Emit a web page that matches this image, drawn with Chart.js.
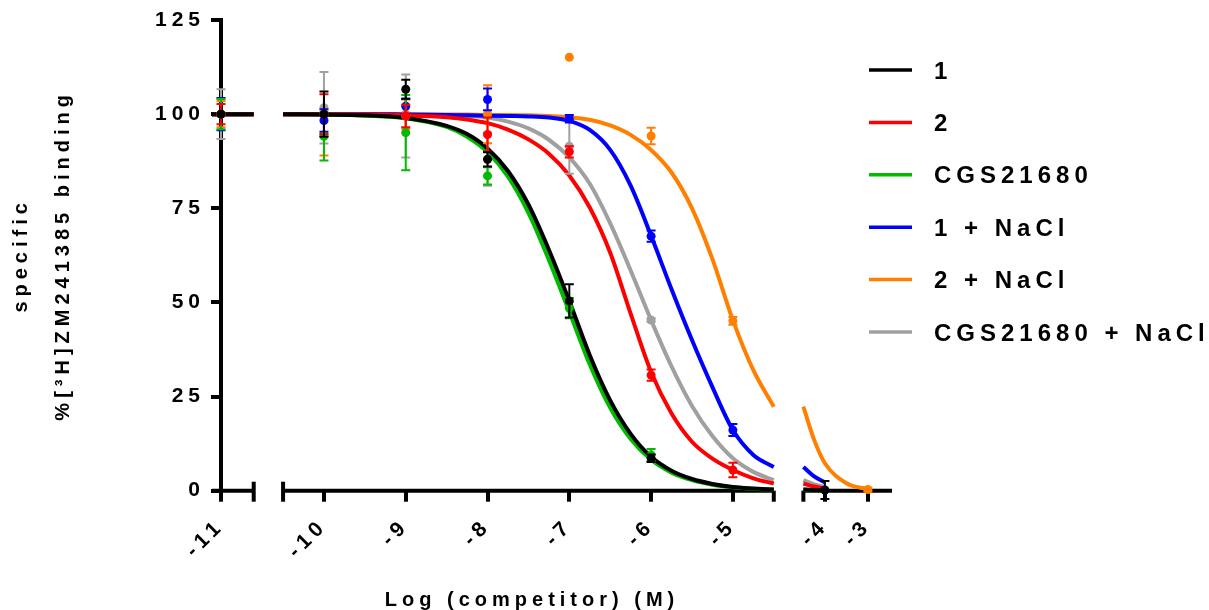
<!DOCTYPE html>
<html>
<head>
<meta charset="utf-8">
<title>Competition binding</title>
<script src="https://cdn.jsdelivr.net/npm/chart.js@4.4.1/dist/chart.umd.min.js"></script>
<style>
  html, body { margin: 0; padding: 0; background: #fff; }
  .chart-container { position: relative; width: 1209px; height: 610px; }
</style>
</head>
<body>
<div class="chart-container"><canvas id="bindingChart"></canvas></div>
<script>
// Tested concentrations, log (M)
const doses = [-11, -10, -9, -8, -7, -6, -5, -4, -3];

// Mean % specific binding per dose (null = no point shown)
const mean1 = [100, 100, 106.6, 88.0, 50.4, 8.6, null, 0.2, null];
const mean2 = [100, 100, 99.5, 94.6, 90.0, 30.7, 5.5, null, null];
const mean3 = [100, 94.1, 95.1, 83.6, 48.5, 9.5, null, null, null];
const mean4 = [100, 98.3, 102.1, 103.9, 98.8, 67.6, 16.1, null, null];
const mean5 = [100, 94.5, 100.0, 100.0, 115.1, 94.2, 45.1, null, 0.3];
const mean6 = [100, 101.7, 99.5, 88.0, 91.5, 45.3, null, null, null];

// SEM per dose
const sem1 = [0, 6.0, 2.5, 1.9, 4.4, 1.0, null, 2.4, null];
const sem2 = [2.7, 5.3, 3.0, 4.5, 1.5, 1.5, 1.9, null, null];
const sem3 = [4.0, 6.4, 10.0, 2.3, 2.7, 1.6, null, null, null];
const sem4 = [4.3, 3.0, 2.0, 2.9, 1.0, 1.5, 1.6, null, null];
const sem5 = [3.5, 5.5, 3.9, 7.7, 0, 2.2, 1.0, null, 0.5];
const sem6 = [6.6, 9.5, 11.0, 7.0, 7.3, 0.5, null, null, null];

// Fitted curves
const leftDoses = [-11.11, -10.6];
const leftCurve = [100, 100];
const curveDoses = [-10.5, -10, -9.5, -9, -8.5, -8.25, -8, -7.75, -7.5, -7.25, -7,
                    -6.75, -6.5, -6.25, -6, -5.75, -5.5, -5.25, -5, -4.75, -4.5];
const curve1 = [100, 99.9, 99.7, 99.0, 96.9, 94.7, 90.9, 84.9, 76.0, 64.0, 50.4,
                36.0, 24.0, 15.1, 9.0, 5.3, 3.1, 1.8, 1.0, 0.6, 0.3];
const curve2 = [100, 100, 99.9, 99.7, 99.2, 98.6, 97.6, 95.9, 93.3, 89.5, 83.7,
                75.2, 63.2, 47.0, 31.5, 20.5, 13.0, 8.5, 5.5, 3.3, 1.9];
const curve3 = [100, 99.9, 99.6, 98.9, 96.6, 94.0, 89.9, 83.4, 73.8, 61.3, 47.5,
                33.5, 22.0, 13.7, 8.2, 4.8, 2.8, 1.6, 0.9, 0.5, 0.3];
const curve4 = [100, 100, 100, 99.9, 99.8, 99.7, 99.6, 99.5, 99.4, 99.1, 98.2,
                95.8, 90.5, 81.0, 67.7, 53.5, 40.0, 27.5, 16.1, 9.5, 6.3];
const curve5 = [100, 100, 100, 100, 99.9, 99.9, 99.8, 99.8, 99.7, 99.5, 99.2,
                98.5, 97.0, 94.5, 90.5, 84.5, 75.0, 61.5, 45.3, 32.0, 22.3];
const curve6 = [100, 100, 100, 99.9, 99.7, 99.5, 99.1, 98.0, 96.2, 93.2, 88.5,
                81.5, 71.0, 58.5, 45.3, 33.0, 22.5, 14.5, 8.6, 5.0, 2.8];
const tailDoses = [-4.5, -4.25, -4, -3.5, -3];
const tail1 = [0.3, 0.2, 0.1, null, null];
const tail2 = [1.9, 1.1, 0.6, null, null];
const tail3 = [0.3, 0.2, 0.1, null, null];
const tail4 = [6.3, 3.8, 2.2, null, null];
const tail5 = [22.3, 13.5, 7.3, 2.0, 0.4];
const tail6 = [2.8, 1.7, 1.0, null, null];

const tickDoses = [-11, -10, -9, -8, -7, -6, -5, -4, -3];
const tickLabels = ['-11', '-10', '-9', '-8', '-7', '-6', '-5', '-4', '-3'];
const seriesNames = ['1', '2', 'CGS21680', '1 + NaCl', '2 + NaCl', 'CGS21680 + NaCl'];
const xTitle = 'Log (competitor) (M)';
const yTitle = ['specific', '%[³H]ZM241385 binding'];

const colors = ['#000000', '#ff0000', '#00bb00', '#0000ff', '#ff8000', '#a0a0a0'];
const means = [mean1, mean2, mean3, mean4, mean5, mean6];
const sems = [sem1, sem2, sem3, sem4, sem5, sem6];
const curves = [curve1, curve2, curve3, curve4, curve5, curve6];
const tails = [tail1, tail2, tail3, tail4, tail5, tail6];

// Broken x axis: each piece shows a log range, placed on a common axis
// measured in decades of the middle piece
const pieces = [
  { from: -11.11, to: -10.6, start: -11.11, scale: 1 },
  { from: -10.5, to: -4.5, start: -10.241, scale: 1 },
  { from: -4.5, to: -2.44, start: -3.879, scale: 0.526 }
];
const gapMarkUp = [9, 0]; // how far the break marks poke above the axis

function axisPos(dose, p) {
  const piece = pieces[p];
  return piece.start + (dose - piece.from) * piece.scale;
}
function pieceOf(dose) {
  return dose <= pieces[0].to ? 0 : (dose <= pieces[1].to ? 1 : 2);
}
function gapPos(p) {
  return (axisPos(pieces[p].to, p) + axisPos(pieces[p + 1].from, p + 1)) / 2;
}

function curveData(mid, tail) {
  const pts = leftDoses.map((d, i) => ({ x: axisPos(d, 0), y: leftCurve[i] }));
  pts.push({ x: gapPos(0), y: null });
  curveDoses.forEach((d, i) => pts.push({ x: axisPos(d, 1), y: mid[i] }));
  pts.push({ x: gapPos(1), y: null });
  tailDoses.forEach((d, i) => pts.push({ x: axisPos(d, 2), y: tail[i] }));
  return pts;
}
function pointData(m, s) {
  const pts = [];
  doses.forEach((d, i) => {
    if (m[i] !== null) pts.push({ x: axisPos(d, pieceOf(d)), y: m[i], sem: s[i] });
  });
  return pts;
}

const datasets = [];
seriesNames.forEach((name, i) => {
  datasets.push({
    label: name,
    data: pointData(means[i], sems[i]),
    showLine: false,
    borderColor: colors[i],
    pointBackgroundColor: colors[i],
    pointBorderWidth: 0,
    pointRadius: 4.5,
    pointHoverRadius: 4.5,
    errorBars: true,
    clip: false,
    order: 1
  });
});
seriesNames.forEach((name, i) => {
  datasets.push({
    label: name + ' fit',
    data: curveData(curves[i], tails[i]),
    borderColor: colors[i],
    borderWidth: 4,
    pointRadius: 0,
    cubicInterpolationMode: 'monotone',
    fill: false,
    clip: false,
    order: 2
  });
});

// Prism-style wide letter spacing on all text
const spacingPlugin = {
  id: 'spacing',
  beforeDraw(chart) { chart.ctx.letterSpacing = '5px'; }
};

// x axis line in pieces with break marks
const brokenAxisPlugin = {
  id: 'brokenAxis',
  beforeDatasetsDraw(chart) {
    const ctx = chart.ctx;
    const x = chart.scales.x;
    const y0 = chart.chartArea.bottom;
    ctx.save();
    ctx.strokeStyle = '#000';
    ctx.lineWidth = 4;
    pieces.forEach((piece, p) => {
      ctx.beginPath();
      ctx.moveTo(x.getPixelForValue(axisPos(piece.from, p)), y0);
      ctx.lineTo(x.getPixelForValue(axisPos(piece.to, p)), y0);
      ctx.stroke();
    });
    gapMarkUp.forEach((up, g) => {
      [x.getPixelForValue(axisPos(pieces[g].to, g)), x.getPixelForValue(axisPos(pieces[g + 1].from, g + 1))].forEach(px => {
        ctx.beginPath();
        ctx.moveTo(px, y0 - up);
        ctx.lineTo(px, y0 + 11);
        ctx.stroke();
      });
    });
    ctx.restore();
  }
};

// SEM bars drawn under each point set
const errorBarPlugin = {
  id: 'errorBars',
  beforeDatasetDraw(chart, args) {
    const ds = chart.data.datasets[args.index];
    if (!ds.errorBars) return;
    const ctx = chart.ctx;
    const y = chart.scales.y;
    ctx.save();
    ctx.strokeStyle = ds.borderColor;
    ctx.lineWidth = 2;
    args.meta.data.forEach((el, i) => {
      const pt = ds.data[i];
      if (!pt.sem) return;
      const top = y.getPixelForValue(pt.y + pt.sem);
      const bot = y.getPixelForValue(pt.y - pt.sem);
      ctx.beginPath();
      ctx.moveTo(el.x, top); ctx.lineTo(el.x, bot);
      ctx.moveTo(el.x - 4.5, top); ctx.lineTo(el.x + 4.5, top);
      ctx.moveTo(el.x - 4.5, bot); ctx.lineTo(el.x + 4.5, bot);
      ctx.stroke();
    });
    ctx.restore();
  }
};

// x axis caption (Prism set it left of the axis centre)
const captionPlugin = {
  id: 'caption',
  afterDraw(chart, args, opts) {
    const ctx = chart.ctx;
    ctx.save();
    ctx.font = 'bold 20px "Liberation Sans", Arial, sans-serif';
    ctx.letterSpacing = '5px';
    ctx.fillStyle = '#000';
    ctx.textAlign = 'center';
    ctx.textBaseline = 'middle';
    ctx.fillText(xTitle, opts.x, opts.y);
    ctx.restore();
  }
};

// legend with line samples, placed right of the plot
const keyPlugin = {
  id: 'lineKey',
  afterDraw(chart, args, opts) {
    const ctx = chart.ctx;
    ctx.save();
    ctx.font = 'bold 24px "Liberation Sans", Arial, sans-serif';
    ctx.letterSpacing = '5px';
    ctx.textBaseline = 'middle';
    seriesNames.forEach((name, i) => {
      const yy = opts.top + i * opts.step;
      ctx.strokeStyle = colors[i];
      ctx.lineWidth = 3.5;
      ctx.beginPath();
      ctx.moveTo(opts.left, yy);
      ctx.lineTo(opts.left + opts.sample, yy);
      ctx.stroke();
      ctx.fillStyle = '#000';
      ctx.fillText(name, opts.left + opts.sample + opts.gap, yy + 2);
    });
    ctx.restore();
  }
};

Chart.defaults.font.family = '"Liberation Sans", Arial, sans-serif';
Chart.defaults.font.weight = 'bold';
Chart.defaults.font.size = 21;
Chart.defaults.color = '#000';

const ctx = document.getElementById('bindingChart').getContext('2d');
new Chart(ctx, {
  type: 'line',
  data: { datasets: datasets },
  options: {
    responsive: true,
    maintainAspectRatio: false,
    animation: false,
    events: [],
    layout: { padding: { top: 20, right: 317, bottom: 0, left: 0 } },
    plugins: {
      legend: { display: false },
      tooltip: { enabled: false },
      lineKey: { left: 869, top: 70, step: 52.4, sample: 43, gap: 22 },
      caption: { x: 532, y: 600 }
    },
    scales: {
      x: {
        type: 'linear',
        min: -11,
        max: axisPos(pieces[2].to, 2),
        afterFit: function(scale) { scale.height = 119.3; },
        afterBuildTicks: function(scale) {
          scale.ticks = tickDoses.map(d => ({ value: axisPos(d, pieceOf(d)) }));
        },
        ticks: {
          autoSkip: false,
          minRotation: 45,
          maxRotation: 45,
          padding: 12,
          callback: (value, index) => tickLabels[index]
        },
        grid: { drawOnChartArea: false, tickLength: 11, lineWidth: 4, color: '#000' },
        border: { display: false }
      },
      y: {
        min: 0,
        max: 125,
        afterFit: function(scale) { scale.width = 221; },
        ticks: { stepSize: 25, padding: 6 },
        grid: { drawOnChartArea: false, tickLength: 10, lineWidth: 4, color: '#000' },
        border: { display: true, width: 4, color: '#000' },
        title: {
          display: true,
          text: yTitle,
          font: { size: 20, weight: 'bold', lineHeight: 2.1 },
          padding: 0
        }
      }
    }
  },
  plugins: [spacingPlugin, brokenAxisPlugin, errorBarPlugin, captionPlugin, keyPlugin]
});
</script>
</body>
</html>
